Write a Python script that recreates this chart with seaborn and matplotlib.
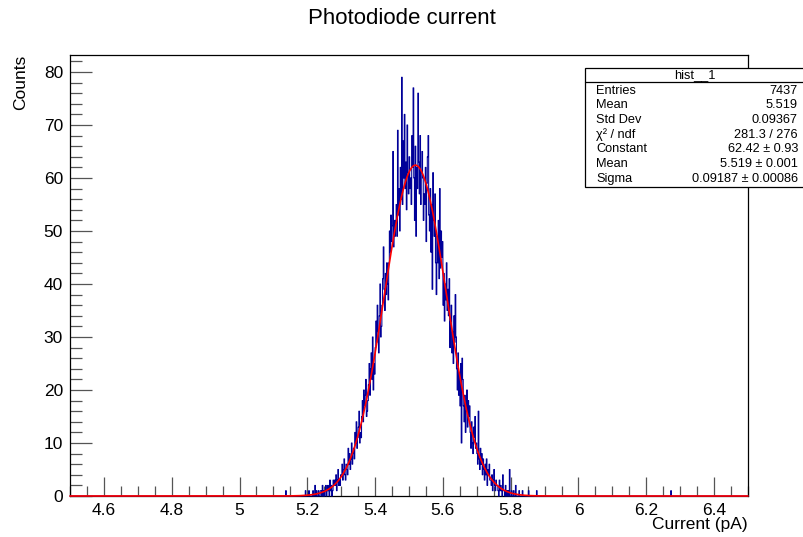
import numpy as np
import pandas as pd
import seaborn as sns
import matplotlib
matplotlib.use("Agg")
import matplotlib.pyplot as plt
from matplotlib.ticker import MultipleLocator, FixedLocator, FixedFormatter
from matplotlib.patches import Rectangle
from matplotlib.lines import Line2D

# ---------------- data ----------------
title = "Photodiode current"
x_label = "Current (pA)"
y_label = "Counts"

hist_lo, hist_hi, n_bins = 4.5, 6.5, 1000
core_start = 5.18
core_counts = [
    0, 0, 0, 0, 0, 0, 0, 1, 0, 0,
    0, 0, 1, 0, 0, 0, 0, 0, 1, 0,
    0, 2, 0, 1, 0, 0, 1, 0, 0, 1,
    1, 0, 2, 0, 1, 0, 1, 2, 0, 1,
    2, 1, 0, 3, 1, 2, 0, 1, 3, 2,
    3, 2, 4, 1, 3, 5, 2, 3, 2, 4,
    4, 6, 3, 5, 7, 4, 3, 6, 5, 4,
    9, 6, 8, 5, 7, 10, 6, 8, 9, 7,
    12, 10, 14, 9, 11, 13, 16, 10, 12, 11,
    15, 18, 14, 20, 17, 19, 22, 15, 16, 18,
    21, 25, 19, 24, 27, 22, 30, 20, 25, 23,
    28, 33, 29, 36, 31, 27, 34, 40, 30, 32,
    36, 41, 47, 39, 35, 42, 38, 44, 40, 37,
    44, 50, 46, 53, 48, 51, 65, 47, 52, 49,
    52, 55, 49, 69, 53, 58, 50, 62, 56, 79,
    55, 67, 60, 72, 58, 63, 54, 70, 61, 57,
    64, 58, 60, 55, 68, 62, 77, 60, 52, 66,
    49, 62, 58, 76, 63, 57, 68, 55, 61, 65,
    60, 52, 57, 55, 62, 48, 59, 64, 68, 53,
    50, 58, 46, 55, 39, 61, 52, 49, 57, 44,
    38, 49, 44, 52, 41, 58, 43, 50, 45, 48,
    36, 42, 33, 40, 37, 44, 35, 39, 34, 41,
    28, 33, 36, 27, 31, 25, 34, 29, 38, 30,
    24, 20, 27, 19, 23, 17, 25, 10, 26, 22,
    17, 14, 19, 12, 16, 20, 13, 18, 15, 17,
    12, 9, 14, 10, 8, 13, 11, 15, 9, 10,
    8, 6, 16, 7, 5, 9, 6, 8, 4, 7,
    5, 3, 6, 4, 7, 2, 5, 4, 6, 3,
    3, 2, 4, 1, 3, 5, 2, 1, 3, 2,
    2, 1, 0, 3, 1, 2, 1, 0, 4, 1,
    1, 0, 2, 0, 1, 0, 1, 0, 5, 0,
    0, 1, 0, 0, 1, 0, 0, 2, 0, 0,
    0, 0, 1, 0, 0, 0, 0, 1, 0, 0,
    0, 0, 0, 0, 0, 0, 1, 0, 0, 0,
]
outlier_x = [5.137, 5.877, 6.273]
outlier_counts = [1, 1, 1]

fit_constant, fit_mean, fit_sigma = 62.42, 5.519, 0.09187

stats_title = "hist__1"
stats_labels = ["Entries", "Mean", "Std Dev", "χ² / ndf", "Constant", "Mean", "Sigma"]
stats_values = ["7437", "5.519", "0.09367", "281.3 / 276",
                "62.42 ± 0.93", "5.519 ± 0.001", "0.09187 ± 0.00086"]

x_ticks = [4.6, 4.8, 5.0, 5.2, 5.4, 5.6, 5.8, 6.0, 6.2, 6.4]
x_tick_labels = ["4.6", "4.8", "5", "5.2", "5.4", "5.6", "5.8", "6", "6.2", "6.4"]
y_ticks = [0, 10, 20, 30, 40, 50, 60, 70, 80]
y_tick_labels = ["0", "10", "20", "30", "40", "50", "60", "70", "80"]

# ---------------- build ----------------
bw = (hist_hi - hist_lo) / n_bins
core_x = core_start + bw * (np.arange(len(core_counts)) + 0.5)
df = pd.DataFrame({
    "current": np.concatenate([core_x, outlier_x]),
    "count": np.concatenate([core_counts, outlier_counts]).astype(float),
})
fit_x = np.linspace(hist_lo, hist_hi, 2001)
fit_df = pd.DataFrame({
    "current": fit_x,
    "fit": fit_constant * np.exp(-0.5 * ((fit_x - fit_mean) / fit_sigma) ** 2),
})

sns.set_style("white")
plt.rcParams['font.family'] = ['Liberation Sans', 'DejaVu Sans']
plt.rcParams['text.color'] = 'black'
plt.rcParams['axes.labelcolor'] = 'black'
plt.rcParams['xtick.color'] = 'black'
plt.rcParams['ytick.color'] = 'black'

W, H = 804, 537
fig = plt.figure(figsize=(W / 100, H / 100), dpi=100)
ax = fig.add_axes([70 / W, 1 - 496 / H, 678 / W, 441 / H])

sns.histplot(data=df, x="current", weights="count", binwidth=bw,
             binrange=(hist_lo, hist_hi),
             element="step", fill=False, color="#000099", linewidth=0.75, ax=ax)
sns.lineplot(data=fit_df, x="current", y="fit", color="#ff0000", linewidth=1.2,
             estimator=None, sort=False, ax=ax)
for ln in ax.lines:
    ln.set_zorder(3.5)
    ln.set_clip_on(False)
for coll in ax.collections + ax.patches:
    coll.set_zorder(3.2)

ax.set_xlim(hist_lo, hist_hi)
ax.set_ylim(0, 83.2)

ax.xaxis.set_major_locator(FixedLocator(x_ticks))
ax.xaxis.set_major_formatter(FixedFormatter(x_tick_labels))
ax.xaxis.set_minor_locator(MultipleLocator(0.05))
ax.yaxis.set_major_locator(FixedLocator(y_ticks))
ax.yaxis.set_major_formatter(FixedFormatter(y_tick_labels))
ax.yaxis.set_minor_locator(MultipleLocator(2))

ax.tick_params(axis='x', which='major', direction='in', length=13.5, width=0.9,
               color='#555555', labelsize=12.5, labelcolor='black', pad=5,
               bottom=True, top=False)
ax.tick_params(axis='x', which='minor', direction='in', length=7, width=0.9,
               color='#555555', bottom=True, top=False)
ax.tick_params(axis='y', which='major', direction='in', length=15.5, width=0.9,
               color='#555555', labelsize=12.5, labelcolor='black', pad=5,
               left=True, right=False)
ax.tick_params(axis='y', which='minor', direction='in', length=8.5, width=0.9,
               color='#555555', left=True, right=False)
for s in ax.spines.values():
    s.set_visible(True)
    s.set_color('black')
    s.set_linewidth(0.9)

ax.set_xlabel(x_label, fontsize=12.5, loc='right', color='black')
ax.xaxis.set_label_coords(1.0, -0.047)
ax.xaxis.label.set_verticalalignment('top')
ax.set_ylabel(y_label, fontsize=12.5, loc='top', color='black')
ax.yaxis.set_label_coords(-0.062, 1.0)

fig.text(402 / W, 1 - 18 / H, title, ha='center', va='center', fontsize=16, color='black')

# ---------------- stats box ----------------
bx0, bx1, by0, by1 = 585, 806, 68, 187
fig.patches.append(Rectangle((bx0 / W, 1 - by1 / H), (bx1 - bx0) / W, (by1 - by0) / H,
                             transform=fig.transFigure, facecolor='white',
                             edgecolor='black', linewidth=0.9, zorder=5))
fig.lines.append(Line2D([bx0 / W, bx1 / W], [1 - 82 / H, 1 - 82 / H],
                        transform=fig.transFigure, color='black', linewidth=0.9, zorder=6))
fig.text((bx0 + 805) / 2 / W, 1 - 75 / H, stats_title, ha='center', va='center',
         fontsize=9.2, color='black', zorder=7)
for i, (lab, val) in enumerate(zip(stats_labels, stats_values)):
    yy = 1 - (90.5 + 14.75 * i) / H
    fig.text(596 / W, yy, lab, ha='left', va='center', fontsize=9.2, color='black', zorder=7)
    fig.text(798 / W, yy, val, ha='right', va='center', fontsize=9.2, color='black', zorder=7)

fig.savefig("out.png", dpi=100)
